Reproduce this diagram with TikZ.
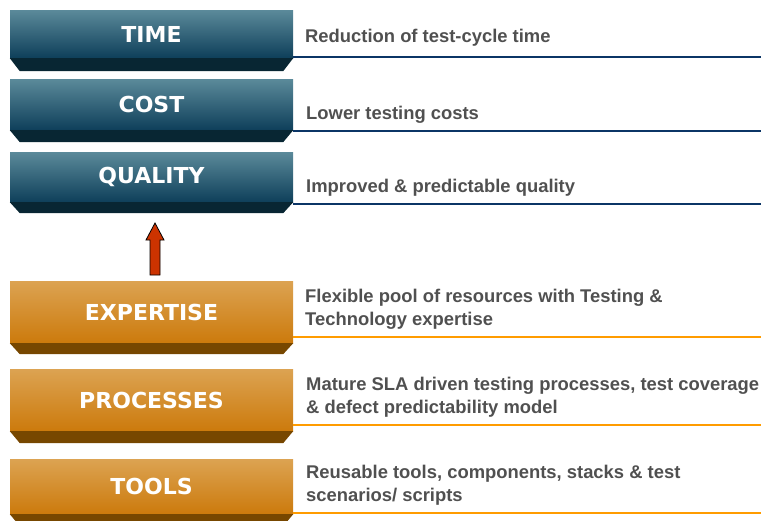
\documentclass[tikz,border=0pt]{standalone}
\usepackage{fontspec}
\setmainfont{Liberation Sans}
\newfontfamily\boxfont{DejaVu Sans}
\definecolor{bluetop}{HTML}{5B8A9A}
\definecolor{bluebot}{HTML}{0E3F5A}
\definecolor{bluedark}{HTML}{082633}
\definecolor{blueline}{HTML}{0B3566}
\definecolor{orangetop}{HTML}{DCA352}
\definecolor{orangebot}{HTML}{CC7A0C}
\definecolor{orangedark}{HTML}{774700}
\definecolor{orangeline}{HTML}{FF9C00}
\definecolor{desctext}{HTML}{505050}
\definecolor{arrowred}{HTML}{CC3300}
\begin{document}
\begin{tikzpicture}[x=1pt,y=-1pt,
  face/.style={minimum width=283pt,inner sep=0pt,text=white,
    font=\boxfont\bfseries\fontsize{22}{26}\selectfont},
  bluebox/.style={face,top color=bluetop,bottom color=bluebot},
  orangebox/.style={face,top color=orangetop,bottom color=orangebot},
  desc/.style={anchor=west,align=left,inner sep=0pt,text=desctext,
    font=\bfseries\fontsize{18.4}{23}\selectfont},
  bline/.style={blueline,line width=2pt},
  oline/.style={orangeline,line width=2pt}]
\useasboundingbox (0,0) rectangle (761,520);

% boxes
\node[bluebox,minimum height=48pt] (time) at (151.5,34) {TIME};
\node[bluebox,minimum height=51pt] (cost) at (151.5,104.5) {COST};
\node[bluebox,minimum height=50pt] (quality) at (151.5,177) {QUALITY};
\node[orangebox,minimum height=62pt] (expertise) at (151.5,312) {EXPERTISE};
\node[orangebox,minimum height=62pt] (processes) at (151.5,400) {PROCESSES};
\node[orangebox,minimum height=55pt] (tools) at (151.5,486.5) {TOOLS};

% bottom bevels
\foreach \n/\c/\h in {time/bluedark/13,cost/bluedark/12,quality/bluedark/11,
  expertise/orangedark/11,processes/orangedark/12,tools/orangedark/12}{
  \fill[\c] (\n.south west) -- (\n.south east) -- ([xshift=-10pt,yshift=-\h pt]\n.south east)
    -- ([xshift=10pt,yshift=-\h pt]\n.south west) -- cycle;
}

% rules
\coordinate (tl) at (293,57);   \draw[bline] (tl) -- (761,57);
\coordinate (cl) at (293,131);  \draw[bline] (cl) -- (761,131);
\coordinate (ql) at (293,204);  \draw[bline] (ql) -- (761,204);
\coordinate (el) at (293,337);  \draw[oline] (el) -- (761,337);
\coordinate (pl) at (293,425);  \draw[oline] (pl) -- (761,425);
\coordinate (ol) at (293,513);  \draw[oline] (ol) -- (761,513);

% descriptions
\node[desc] (timed) at (305,37.5) {Reduction of test-cycle time};
\node[desc] (costd) at (306,115) {Lower testing costs};
\node[desc] (qualityd) at (306,188) {Improved \& predictable quality};
\node[desc] (expertised) at (305,309.5) {Flexible pool of resources with Testing \&\\Technology expertise};
\node[desc] (processesd) at (306,397) {Mature SLA driven testing processes, test coverage\\\& defect predictability model};
\node[desc] (toolsd) at (306,485) {Reusable tools, components, stacks \& test\\scenarios/ scripts};

% arrow
\filldraw[fill=arrowred,draw=black,line width=0.8pt,line join=miter]
  (155,223) -- (164,240) -- (160,240) -- (160,275) -- (150,275) -- (150,240) -- (146,240) -- cycle;
\end{tikzpicture}
\end{document}
